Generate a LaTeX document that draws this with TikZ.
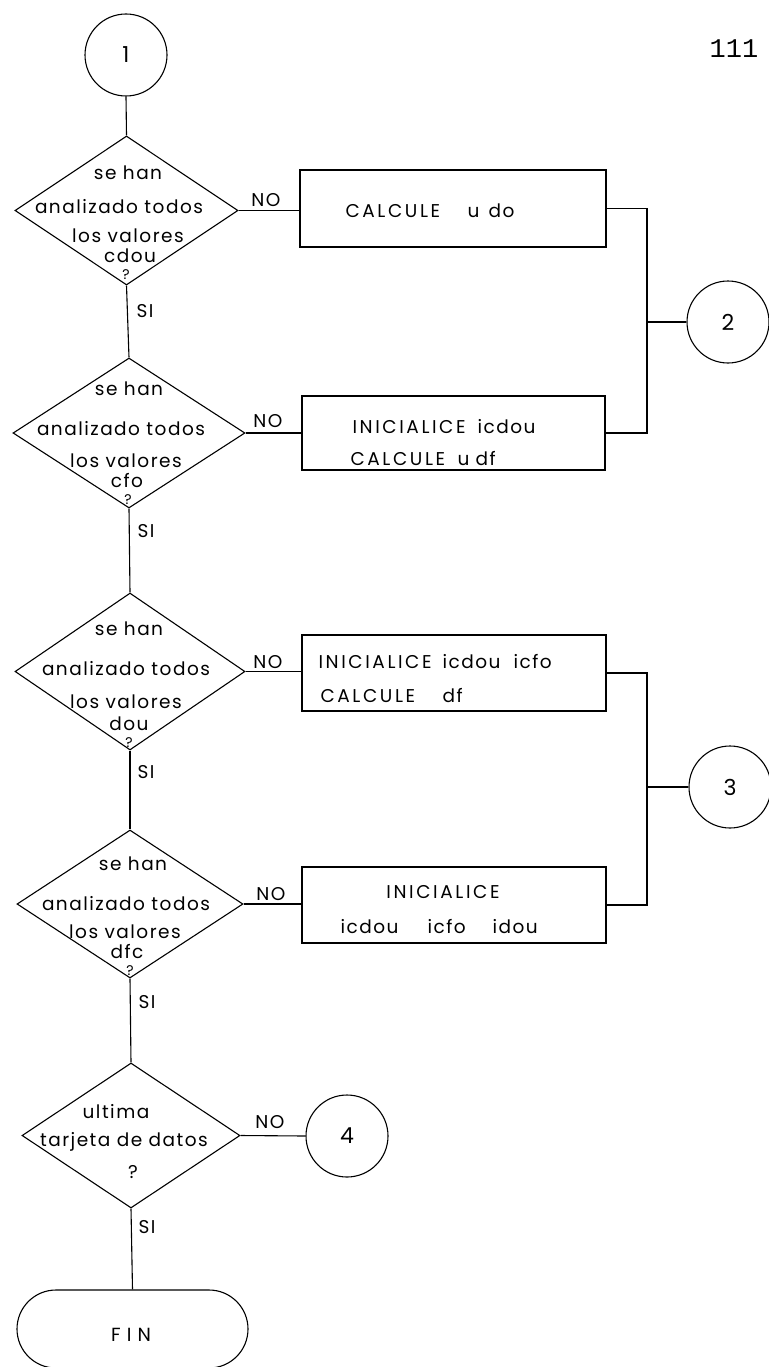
\documentclass[tikz,border=0pt]{standalone}
\usepackage{fontspec}
\setmainfont{Poppins}[LetterSpace=8]
\newfontfamily\pagefont{Liberation Mono}
\newcommand\capsp[1]{{\addfontfeature{LetterSpace=14}#1}}
\usetikzlibrary{shapes.geometric,shapes.misc}
\begin{document}
\begin{tikzpicture}[x=1pt,y=-1pt,line width=1.1pt,
  dec/.style={draw,diamond,inner sep=0pt},
  proc/.style={draw,rectangle,inner sep=0pt},
  conn/.style={draw,circle,inner sep=0pt,minimum size=82pt,font=\fontsize{22}{22}\selectfont},
  txt/.style={inner sep=0pt,anchor=base,font=\fontsize{18.5}{18.5}\selectfont},
  qm/.style={txt,font=\fontsize{14}{14}\selectfont},
  btxt/.style={txt,anchor=base west},
  yn/.style={txt,anchor=base},
  sil/.style={txt,anchor=base west}]
\useasboundingbox (0,0) rectangle (768,1367);

% decisions
\node[dec,minimum width=223pt,minimum height=149pt] (d1) at (126.5,210.5) {};
\node[dec,minimum width=232pt,minimum height=150pt] (d2) at (129,433) {};
\node[dec,minimum width=230pt,minimum height=157pt] (d3) at (130,671.5) {};
\node[dec,minimum width=226pt,minimum height=148pt] (d4) at (130,904) {};
\node[dec,minimum width=218pt,minimum height=145pt] (d5) at (131,1135.5) {};

% processes
\node[proc,minimum width=306pt,minimum height=77pt] (b1) at (453,208.5) {};
\node[proc,minimum width=303pt,minimum height=74pt] (b2) at (453.5,433) {};
\node[proc,minimum width=304pt,minimum height=76pt] (b3) at (454,673) {};
\node[proc,minimum width=304pt,minimum height=76pt] (b4) at (454,905) {};

% connectors
\node[conn] (c1) at (126,55) {1};
\node[conn] (c2) at (728,322) {2};
\node[conn] (c3) at (730,787) {3};
\node[conn] (c4) at (347,1136) {4};

% terminal
\node[draw,rounded rectangle,inner sep=0pt,minimum width=231pt,minimum height=78pt] (fin) at (132.5,1329) {};
\node[txt,font=\fontsize{19}{19}\selectfont\addfontfeature{LetterSpace=32}] (fint) at (131,1341) {FIN};

% page number
\node[inner sep=0pt,anchor=base,font=\pagefont\fontsize{27}{27}\selectfont] (pg) at (734,58) {111};

% diamond texts
\node[txt] (d1a) at (128,180) {se han};
\node[txt] (d1b) at (119,213) {analizado todos};
\node[txt] (d1c) at (128,242) {los valores};
\node[txt] (d1d) at (130,262) {cdou};
\node[qm] (d1e) at (126,279) {?};

\node[txt] (d2a) at (129,395) {se han};
\node[txt] (d2b) at (121,435) {analizado todos};
\node[txt] (d2c) at (126,467) {los valores};
\node[txt] (d2d) at (127,487) {cfo};
\node[qm] (d2e) at (128,504) {?};

\node[txt] (d3a) at (129,635) {se han};
\node[txt] (d3b) at (126,675) {analizado todos};
\node[txt] (d3c) at (126,708) {los valores};
\node[txt] (d3d) at (129,730) {dou};
\node[qm] (d3e) at (129,747) {?};

\node[txt] (d4a) at (133,870) {se han};
\node[txt] (d4b) at (126,910) {analizado todos};
\node[txt] (d4c) at (125,938) {los valores};
\node[txt] (d4d) at (127,958) {dfc};
\node[qm] (d4e) at (130,975) {?};

\node[txt] (d5a) at (116,1118) {ultima};
\node[txt] (d5b) at (124,1146) {tarjeta de datos};
\node[txt] (d5c) at (133,1178) {?};

% box texts
\node[btxt] (b1t) at (345,218) {\makebox[122pt][l]{\capsp{CALCULE}}\makebox[21pt][l]{u}do};
\node[btxt] (b2t) at (352,433) {\makebox[125pt][l]{\capsp{INICIALICE}}icdou};
\node[btxt] (b2u) at (350,465) {\makebox[107pt][l]{\capsp{CALCULE}}\makebox[18pt][l]{u}df};
\node[btxt] (b3t) at (318,668) {\makebox[124pt][l]{\capsp{INICIALICE}}\makebox[71pt][l]{icdou}icfo};
\node[btxt] (b3u) at (320,702) {\makebox[122pt][l]{\capsp{CALCULE}}df};
\node[txt] (b4t) at (443,898) {\capsp{INICIALICE}};
\node[btxt] (b4u) at (340,933) {\makebox[87pt][l]{icdou}\makebox[65pt][l]{icfo}idou};

% NO / SI labels
\node[yn] (n1) at (266,207) {NO};
\node[yn] (n2) at (268,427) {NO};
\node[yn] (n3) at (268,668) {NO};
\node[yn] (n4) at (271,900) {NO};
\node[yn] (n5) at (270,1128) {NO};
\node[sil] (s1) at (136,317) {SI};
\node[sil] (s2) at (137,537) {SI};
\node[sil] (s3) at (137,778) {SI};
\node[sil] (s4) at (138,1008) {SI};
\node[sil] (s5) at (138,1233) {SI};

% flow lines
\draw (c1.south) -- (d1.north);
\draw (d1.south) -- (d2.north);
\draw (d2.south) -- (d3.north);
\draw (d3.south) -- (d4.north);
\draw (d4.south) -- (d5.north);
\draw (d5.south) -- (fin.north);

\draw (d1.east) -- (d1.east -| b1.west);
\draw (d2.east) -- (d2.east -| b2.west);
\draw (d3.east) -- (d3.east -| b3.west);
\draw (d4.east) -- (d4.east -| b4.west);
\draw (d5.east) -- (c4.west);

\coordinate (j2) at (647,322);
\coordinate (j3) at (647,787);
\draw (b1.east) -| (j2) |- (b2.east);
\draw (j2) -- (c2.west);
\draw (b3.east) -| (j3) |- (b4.east);
\draw (j3) -- (c3.west);
\end{tikzpicture}
\end{document}
